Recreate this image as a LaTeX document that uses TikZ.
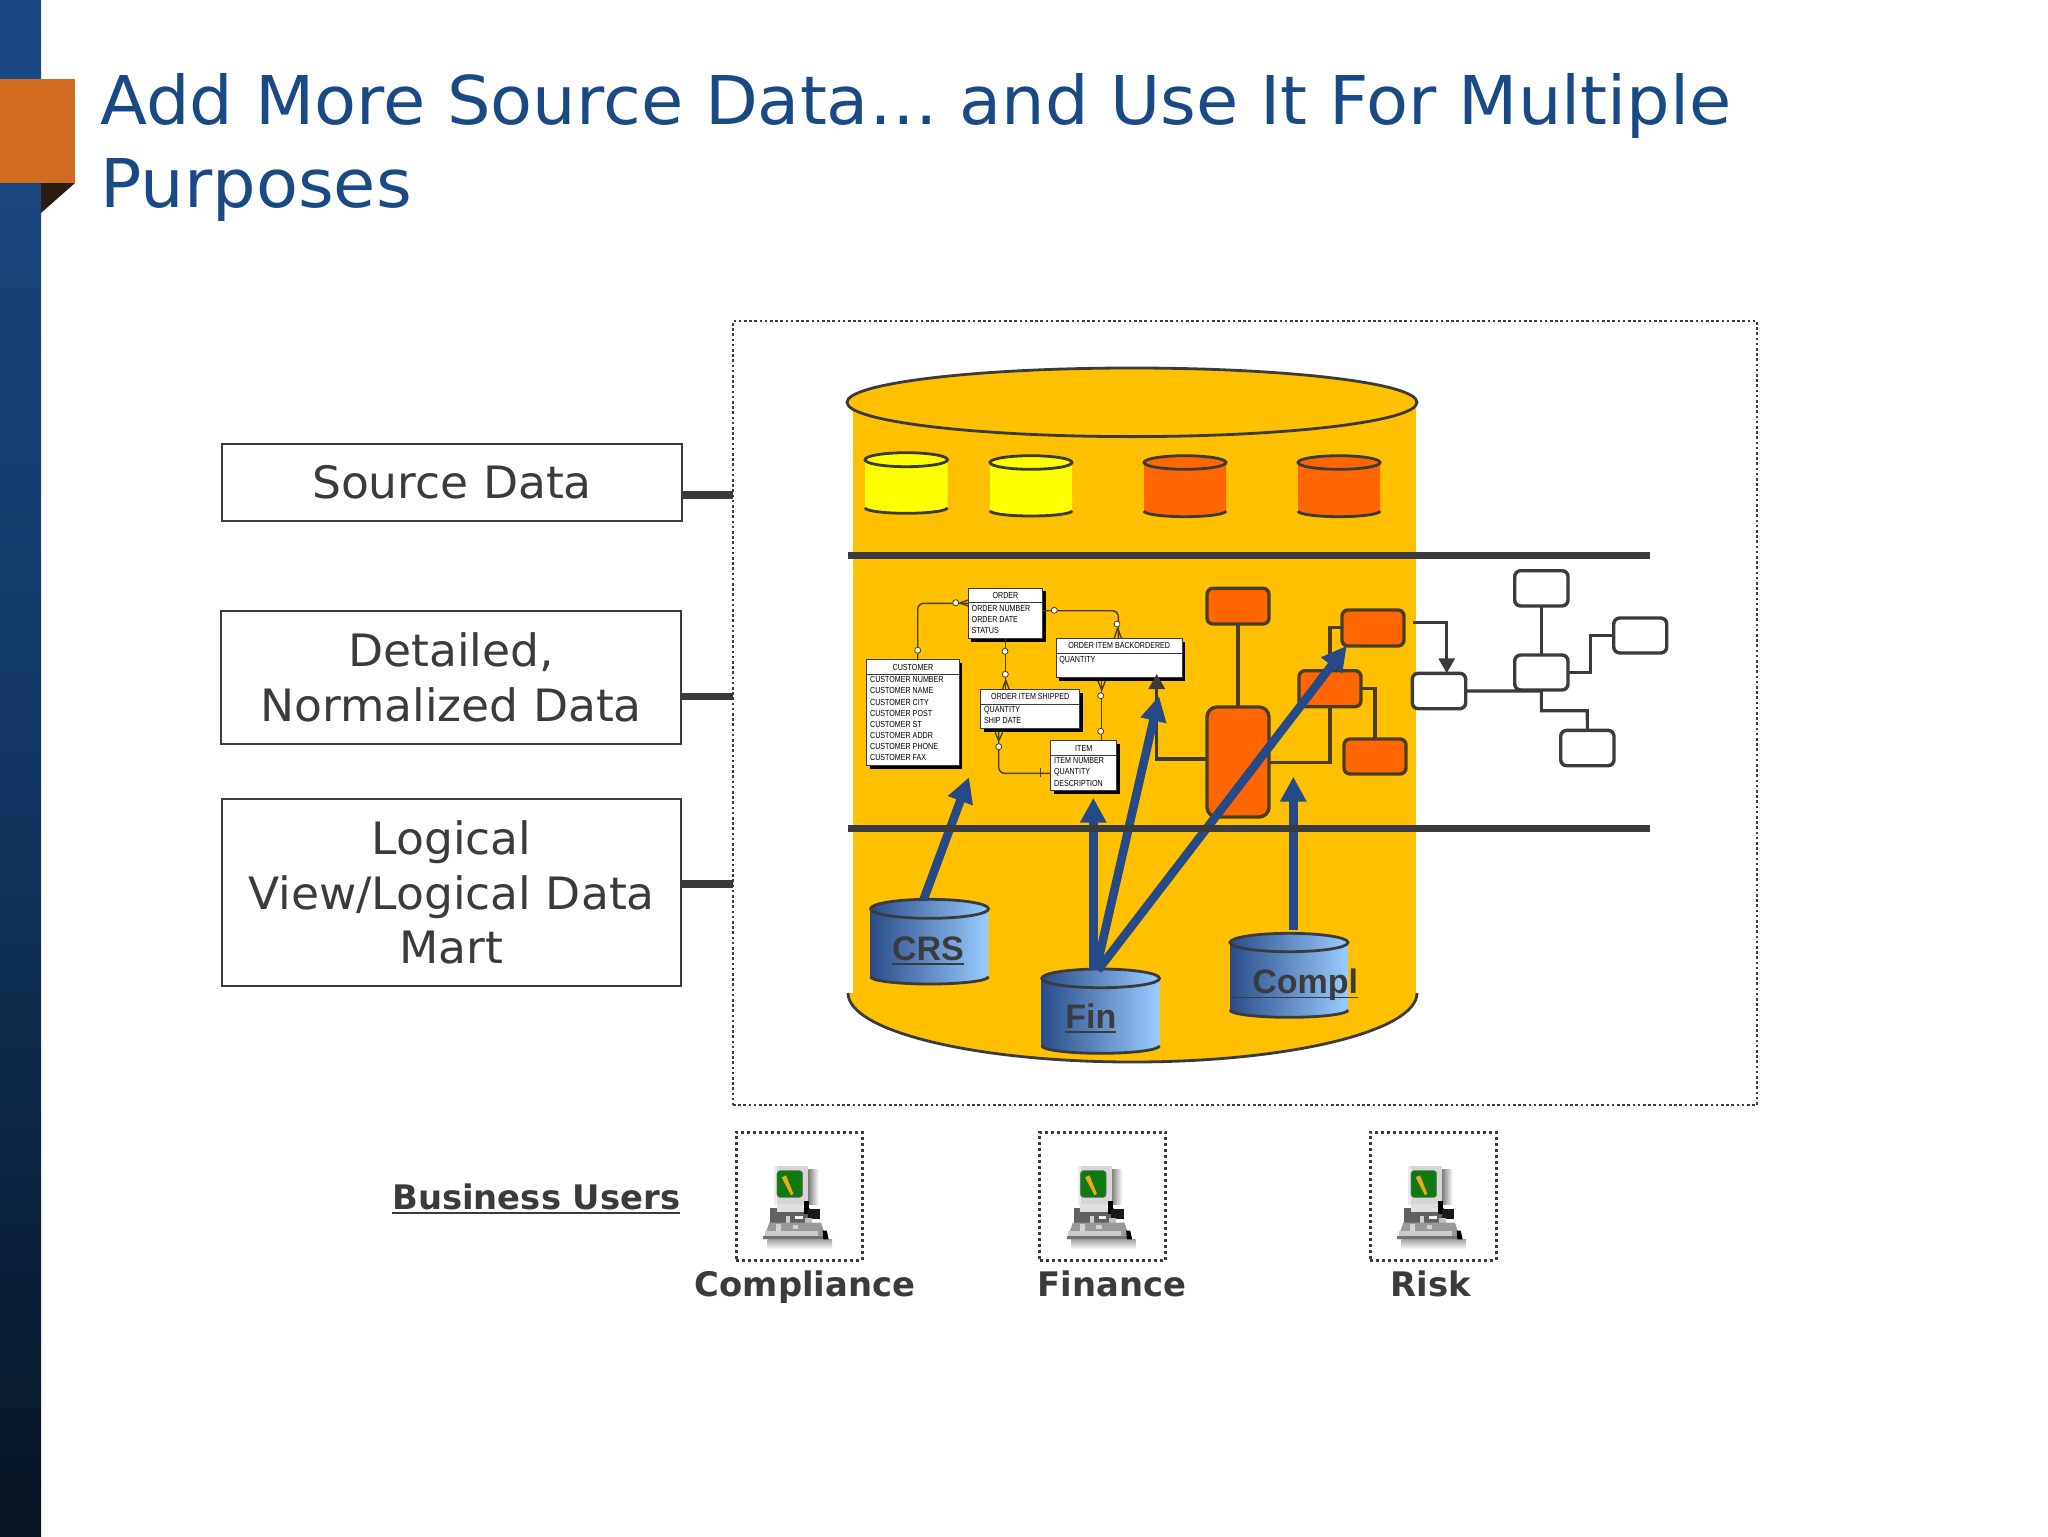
\documentclass[tikz,border=0pt]{standalone}
\usepackage{fontspec}
\usetikzlibrary{arrows.meta,shapes.geometric,calc}
\setmainfont{DejaVu Sans}
\newfontfamily\verd[FakeStretch=1.022]{DejaVu Sans}
\newfontfamily\arialbf{Liberation Sans Bold}
\newfontfamily\erfont[FakeStretch=0.81]{Liberation Sans}
\definecolor{titleblue}{HTML}{1A4A85}
\definecolor{barmid}{HTML}{123663}
\definecolor{bardark}{HTML}{081522}
\definecolor{tabor}{HTML}{D26C20}
\definecolor{tabdark}{HTML}{2B1C12}
\definecolor{amber}{HTML}{FFC000}
\definecolor{hot}{HTML}{FF6600}
\definecolor{lemon}{HTML}{FFFF00}
\definecolor{ink}{HTML}{3B3B3D}
\definecolor{olive}{HTML}{4A3D24}
\definecolor{arrowblue}{HTML}{264A87}
\definecolor{cyldark}{HTML}{2A4D8A}
\definecolor{cyllight}{HTML}{99CCFF}
\definecolor{screen}{HTML}{0F7A12}
\definecolor{pencil}{HTML}{F2A81E}
\tikzset{
  x=0.5pt,y=-0.5pt,
  sidebox/.style={draw=ink,line width=1.4pt,fill=white,rectangle,inner sep=0pt,outer sep=0pt},
  sidetext/.style={inner sep=0pt,text=ink,font=\fontsize{22.3}{27.4}\verd,align=center},
  titletext/.style={anchor=base west,inner sep=0pt,text=titleblue,font=\fontsize{33.6}{40}\verd},
  stub/.style={draw=ink,line width=3.8pt},
  divider/.style={draw=ink,line width=3.5pt},
  dotbox/.style={draw=ink,line width=1.3pt,dash pattern=on 1.3pt off 1.3pt,fill=none,rectangle,inner sep=0pt,outer sep=0pt},
  userbox/.style={draw=ink,line width=1.5pt,dash pattern=on 1.5pt off 1.5pt,fill=none,rectangle,inner sep=0pt,outer sep=0pt},
  orbox/.style={draw=olive,line width=1.7pt,fill=hot,rectangle,rounded corners=3pt,inner sep=0pt,outer sep=0pt},
  whbox/.style={draw=ink,line width=1.7pt,fill=white,rectangle,rounded corners=3pt,inner sep=0pt,outer sep=0pt},
  orlink/.style={draw=olive,line width=1.6pt},
  whlink/.style={draw=ink,line width=1.6pt},
  darrow/.style={draw=ink,line width=1.6pt,-{Triangle[length=7.5pt,width=8pt,fill=ink]}},
  barrow/.style={draw=arrowblue,line width=4.3pt,-{Triangle[length=12.5pt,width=12.5pt,fill=arrowblue]}},
  cylline/.style={draw=ink,line width=1.4pt},
  blueshade/.style={left color=cyldark,right color=cyllight},
  entity/.style={draw=ink,line width=.4pt,fill=white,rectangle,inner sep=0pt,outer sep=0pt},
  ertext/.style={inner sep=0pt,text=black,font=\fontsize{4.4}{5}\erfont},
  erlink/.style={draw=olive,line width=.7pt},
  ring/.style={circle,draw=olive,line width=.4pt,fill=white,minimum size=3pt,inner sep=0pt},
  boldlabel/.style={inner sep=0pt,text=ink,font=\fontsize{16.9}{20}\selectfont\bfseries},
  cyllabel/.style={inner sep=0pt,text=ink,font=\fontsize{17}{20}\arialbf},
}
\newcommand\rn[6][]{\node[#2,#1,minimum width={(#5-#3)*0.5pt},minimum height={abs(#6-#4)*0.5pt}] at ({(#3+#5)/2},{(#4+#6)/2})}
\newcommand\ulbox[3]{\leavevmode\setbox0\hbox{#1}\rlap{\rule[-#2]{\wd0}{#3}}\box0 }
% name x1 x2 yt1 yt2 ys yb fill
\newcommand\cyl[8]{%
  \pgfmathsetmacro\cyrx{(#3-#2)/2}\pgfmathsetmacro\cyc{(#2+#3)/2}%
  \pgfmathsetmacro\cycy{(#4+#5)/2}\pgfmathsetmacro\cyry{#7-#6}%
  \path[#8] (#2,\cycy) -- (#2,#6) arc[start angle=180,end angle=0,x radius=\cyrx,y radius=\cyry] -- (#3,\cycy) -- cycle;
  \draw[cylline] (#2,#6) arc[start angle=180,end angle=0,x radius=\cyrx,y radius=\cyry];
  \node[ellipse,cylline,#8,inner sep=0pt,outer sep=0pt,minimum width={(#3-#2)*0.5pt},minimum height={(#5-#4)*0.5pt}] (#1) at (\cyc,\cycy) {};
}
% name x1 y1 x2 y2 yhead title firstbaseline rows
\newcommand\entitybox[9]{%
  \fill[black] (#2+3,#3+3) rectangle (#4+3,#5+3);
  \rn{entity}{#2}{#3}{#4}{#5} (#1) {};
  \draw[ink,line width=.4pt] (#2,#6) -- (#4,#6);
  \node[ertext] (#1-title) at ({(#2+#4)/2},{(#3+#6)/2}) {#7};
  \foreach \rw [count=\ri] in {#9} {
    \node[ertext,anchor=base west] (#1-\ri) at (#2+3,{#8+(\ri-1)*11.07}) {\rw};
  }
}
\newcommand\usericon[3]{%
  \rn{userbox}{#2}{#3}{#2+126}{#3+128} (#1) {};
  \begin{scope}[shift={(#2,#3)},x=0.16667pt,y=-0.16667pt]
    \shade[left color=black!50,right color=white] (217,112) rectangle (248,218);
    \shade[top color=black!35,bottom color=white] (95,322) rectangle (288,352);
    \fill[black!16] (115,103) rectangle (217,218);
    \fill[black!8] (115,103) rectangle (123,218);
    \fill[screen,rounded corners=1.5pt,draw=black!55,line width=.3pt] (123,116) rectangle (200,196);
    \fill[pencil] (137,136) -- (150,130) -- (172,185) -- (165,190) -- cycle;
    \fill[black!62] (102,228) rectangle (222,272);
    \fill[black!12] (122,215) rectangle (205,240);
    \fill[black] (205,208) rectangle (220,245);
    \fill[black!90] (215,232) rectangle (252,262);
    \fill[black!18] (150,252) rectangle (162,272);
    \fill[black!5] (178,252) rectangle (200,260);
    \fill[black!25] (207,258) rectangle (228,272);
    \fill[black!40] (100,272) -- (255,272) -- (272,322) -- (82,322) -- cycle;
    \fill[black!18] (120,276) rectangle (136,296);
    \fill[black!18] (170,278) rectangle (186,292);
    \fill[black!20] (86,296) rectangle (245,312);
    \fill[black!55] (82,312) rectangle (272,322);
    \fill[black] (260,296) -- (272,296) -- (278,322) -- (262,322) -- cycle;
  \end{scope}
}
\begin{document}
\begin{tikzpicture}
\useasboundingbox (0,0) rectangle (2048,1536);
\fill[white] (0,0) rectangle (2048,1536);
% left band and tab
\shade[top color=titleblue,bottom color=bardark,middle color=barmid] (0,0) rectangle (41,1536);
\fill[tabor] (0,79) rectangle (75,183);
\fill[tabdark] (41,183) -- (75,183) -- (41,213) -- cycle;
% title
\node[titletext] (title1) at (100,125) {Add More Source Data… and Use It For Multiple};
\node[titletext] (title2) at (100,207) {Purposes};
% dotted frame
\rn{dotbox}{733}{321}{1757}{1105} (frame) {};
% side boxes
\rn{sidebox}{222}{444}{682}{521} (src) {};
\rn{sidebox}{221}{611}{681}{744} (det) {};
\rn{sidebox}{222}{799}{681}{986} (log) {};
\node[sidetext] (srct) at (src.center) {Source Data};
\node[sidetext] (dett) at (det.center) {Detailed,\\Normalized Data};
\node[sidetext] (logt) at (log.center) {Logical\\View/Logical Data\\Mart};
\coordinate (e1) at (733,495);\coordinate (e2) at (733,696.5);\coordinate (e3) at (733,884);
\draw[stub] (src.east |- e1) -- (e1);
\draw[stub] (det.east |- e2) -- (e2);
\draw[stub] (log.east |- e3) -- (e3);
% big cylinder
\fill[amber] (853,402) rectangle (1416,993);
\fill[amber] (848,993) arc[start angle=180,end angle=0,x radius=284.5,y radius=69] -- cycle;
\draw[cylline] (848,993) arc[start angle=180,end angle=0,x radius=284.5,y radius=69];
\node[ellipse,cylline,fill=amber,inner sep=0pt,outer sep=0pt,minimum width=285pt,minimum height=34.3pt] (bigtop) at (1132,402.3) {};
% small cylinders
\cyl{y1}{865}{947.5}{452.7}{466.7}{507.7}{513.3}{fill=lemon}
\cyl{y2}{990}{1072}{455.7}{469.3}{510.7}{516}{fill=lemon}
\cyl{o1}{1144}{1226}{455.7}{469.3}{511}{516.7}{fill=hot}
\cyl{o2}{1298}{1380}{455.7}{469.3}{511}{516.7}{fill=hot}
% ER entities
\entitybox{order}{968.3}{588.3}{1042.7}{638.7}{602.7}{ORDER}{611.5}{ORDER NUMBER,ORDER DATE,STATUS}
\entitybox{cust}{866.7}{659.7}{959.3}{765.7}{674.3}{CUSTOMER}{682.9}{CUSTOMER NUMBER,CUSTOMER NAME,CUSTOMER CITY,CUSTOMER POST,CUSTOMER ST,CUSTOMER ADDR,CUSTOMER PHONE,CUSTOMER FAX}
\entitybox{ship}{980.7}{689.7}{1079.7}{728.7}{704}{ORDER ITEM SHIPPED}{712.9}{QUANTITY,SHIP DATE}
\entitybox{back}{1056}{638.7}{1182.3}{677.7}{653}{ORDER ITEM BACKORDERED}{662.2}{QUANTITY}
\entitybox{item}{1050.7}{740.7}{1116.7}{790.7}{755.3}{ITEM}{763.9}{ITEM NUMBER,QUANTITY,DESCRIPTION}
% ER links
\draw[erlink,rounded corners=3pt] (917.7,659.7) -- (917.7,603.3) -- (968.3,603.3);
\draw[erlink] (960,603) -- (968.3,600) (960,603) -- (968.3,606);
\node[ring] (r1) at (917.7,650.3) {};\node[ring] (r2) at (955.7,602.7) {};
\draw[erlink,rounded corners=3pt] (1042.7,610.7) -- (1118.3,610.7) -- (1118.3,638.7);
\draw[erlink] (1117.5,628.3) -- (1114,638.7) (1117.5,628.3) -- (1121.7,638.7);
\node[ring] (r3) at (1054.3,610.3) {};\node[ring] (r4) at (1117,624) {};
\draw[erlink] (1005.3,638.7) -- (1005.3,689.7);
\draw[erlink] (1005.7,680) -- (1002.3,689.7) (1005.7,680) -- (1009.3,689.7);
\node[ring] (r5) at (1005,651.3) {};\node[ring] (r6) at (1005.3,674.3) {};
\draw[erlink,rounded corners=3pt] (998.7,731.7) -- (998.7,773.3) -- (1050.7,773.3);
\draw[erlink] (998.7,740.7) -- (995,732.3) (998.7,740.7) -- (1002.7,732.3);
\draw[erlink] (1040.7,768.3) -- (1040.7,777.3);
\node[ring] (r7) at (998.7,746.7) {};
\draw[erlink] (1101.7,680.7) -- (1101.7,740.7);
\draw[erlink] (1101.7,690) -- (1098,681) (1101.7,690) -- (1105.3,681);
\node[ring] (r8) at (1100.7,695.7) {};\node[ring] (r9) at (1100.7,731.3) {};
% orange model
\rn{orbox}{1207}{588.3}{1269}{624} (oa) {};
\rn{orbox,rounded corners=5pt}{1207}{707}{1269}{817} (ob) {};
\draw[orlink] (1269,762.3) -- (1330,762.3) -- (1330,627.7) -- (1342,627.7);
\rn{orbox}{1342}{610}{1404}{646} (oc) {};
\rn{orbox}{1299}{670.7}{1361}{706.7} (od) {};
\rn{orbox}{1344}{739}{1406}{774} (oe) {};
\draw[orlink] (oa) -- (ob);
\draw[orlink] (od.east |- 0,688.3) -| (oe.north);
\coordinate (bk) at (1156.7,674);
\draw[darrow] (1207,759) -| (bk);
% white model
\rn{whbox}{1412.3}{673.3}{1465.7}{708.7} (wf) {};
\rn{whbox}{1514.7}{655}{1568}{690} (wg) {};
\rn{whbox}{1514.7}{570.7}{1568}{606} (wh) {};
\rn{whbox}{1613.7}{618}{1666.7}{653} (wi) {};
\rn{whbox}{1560.7}{730.3}{1614}{765.7} (wj) {};
\coordinate (oout) at (1412.7,622.3);
\draw[darrow] (oout) -| (wf.north -| 1446.7,0);
\draw[whlink] (wf.east) -- (1541.3,691) -- (wg.south);
\draw[whlink] (wh) -- (wg);
\draw[whlink] (wg.east |- 0,672.3) -- (1590.7,672.3) |- (wi.west);
\draw[whlink] (wg.south) |- (1587.3,710.7) -- (wj.north);
% blue cylinders
\cyl{crs}{870.6}{988.5}{899.3}{918.3}{976.7}{984}{blueshade}
\cyl{fin}{1041.7}{1159.5}{969}{987.7}{1045.7}{1053.3}{blueshade}
\cyl{cpl}{1230}{1348}{933.3}{951.7}{1010}{1017.3}{blueshade}
% blue arrows
\coordinate (crsout) at (923.4,900);
\coordinate (crstip) at (969,777.3);
\coordinate (fin1) at (1093.3,970);\coordinate (fin1t) at (1093.3,797.7);
\coordinate (fin2) at (1096,970);\coordinate (fin2t) at (1159,696);
\coordinate (fin3) at (1098,970);\coordinate (fin3t) at (1346.7,645.7);
\coordinate (cplout) at (1293.3,930);\coordinate (cplt) at (1293.3,776.7);
\draw[barrow] (crsout) -- (crstip);
\draw[barrow] (fin1) -- (fin1t);
\draw[barrow] (fin2) -- (fin2t);
\draw[barrow] (fin3) -- (fin3t);
\draw[barrow] (cplout) -- (cplt);
% dividers
\coordinate (d1a) at (848,555.5);\coordinate (d1b) at (1650,555.5);
\coordinate (d2a) at (848,828.5);\coordinate (d2b) at (1650,828.5);
\draw[divider] (d1a) -- (d1b);
\draw[divider] (d2a) -- (d2b);
% cylinder labels
\node[cyllabel,anchor=base west] (crsl) at (891.7,960) {\ulbox{CRS}{2.4pt}{.9pt}};
\node[cyllabel,anchor=base west] (finl) at (1065,1028) {\ulbox{Fin}{2.4pt}{.9pt}};
\node[cyllabel,anchor=base west] (cpll) at (1232,993.5) {\ulbox{\hspace{10pt}Compl}{2.4pt}{.9pt}};
% users
\node[boldlabel,anchor=base west] (bu) at (392,1209) {\ulbox{Business Users}{2.6pt}{1pt}};
\usericon{u1}{736}{1132}
\usericon{u2}{1039.5}{1132}
\usericon{u3}{1370}{1132}
\node[boldlabel,anchor=base] (l1) at (805,1296) {Compliance};
\node[boldlabel,anchor=base] (l2) at (1112,1296) {Finance};
\node[boldlabel,anchor=base] (l3) at (1431,1296) {Risk};
\end{tikzpicture}
\end{document}
